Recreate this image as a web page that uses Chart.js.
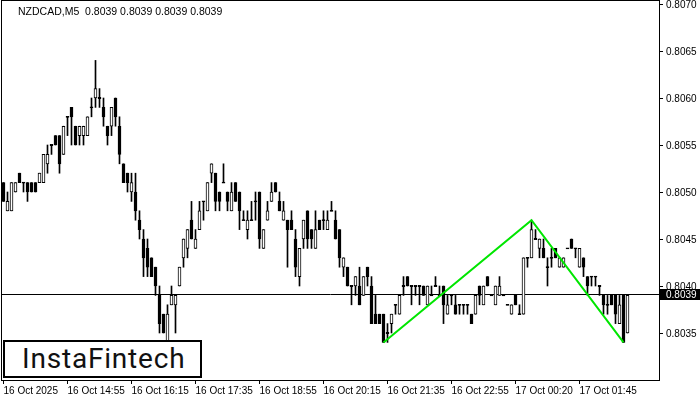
<!DOCTYPE html>
<html>
<head>
<meta charset="utf-8">
<script src="https://cdn.jsdelivr.net/npm/chart.js@4.4.1/dist/chart.umd.min.js"></script>
<style>
html, body { margin: 0; padding: 0; background: #fff; }
#wrap { position: relative; width: 700px; height: 400px; }
#logo {
    position: absolute; left: 3px; top: 340px; width: 178px; height: 34px;
    padding-left: 17px; border: 2px solid #000; background: #fff;
    font-family: Roboto, sans-serif; font-size: 28px; font-weight: 400; line-height: 34px;
    letter-spacing: 0.8px; color: #111;
}
</style>
</head>
<body>
<div id="wrap">
    <canvas id="myChart" width="700" height="400"></canvas>
    <div id="logo">InstaFintech</div>
</div>
<script>
// NZDCAD M5 candles (157 bars)
const open = [
    0.8051,0.8048,0.8048,0.8050,0.8052,0.8051,0.8051,0.8051,0.8051,0.8051,
    0.8051,0.8053,0.8055,0.8056,0.8056,0.8054,0.8058,0.8059,0.8057,0.8056,
    0.8056,0.8056,0.8059,0.8060,0.8060,0.8059,0.8057,0.8057,0.8060,0.8057,
    0.8053,0.8052,0.8050,0.8050,0.8047,0.8045,0.8044,0.8043,0.8042,0.8039,
    0.8037,0.8034,0.8038,0.8038,0.8040,0.8043,0.8044,0.8047,0.8044,0.8046,
    0.8049,0.8048,0.8052,0.8052,0.8050,0.8051,0.8050,0.8048,0.8051,0.8050,
    0.8047,0.8046,0.8047,0.8049,0.8050,0.8044,0.8047,0.8049,0.8051,0.8049,
    0.8047,0.8047,0.8047,0.8045,0.8041,0.8045,0.8048,0.8046,0.8044,0.8047,
    0.8047,0.8046,0.8048,0.8047,0.8046,0.8042,0.8042,0.8040,0.8040,0.8040,
    0.8039,0.8042,0.8040,0.8037,0.8037,0.8037,0.8035,0.8036,0.8038,0.8037,
    0.8040,0.8041,0.8040,0.8040,0.8040,0.8040,0.8038,0.8039,0.8040,0.8039,
    0.8040,0.8037,0.8039,0.8038,0.8038,0.8038,0.8038,0.8037,0.8037,0.8040,
    0.8038,0.8041,0.8039,0.8038,0.8039,0.8039,0.8038,0.8037,0.8039,0.8037,
    0.8037,0.8043,0.8043,0.8045,0.8044,0.8044,0.8042,0.8043,0.8044,0.8042,
    0.8042,0.8044,0.8045,0.8044,0.8042,0.8043,0.8041,0.8041,0.8041,0.8040,
    0.8039,0.8038,0.8039,0.8039,0.8036,0.8039,0.8035
];
const high = [
    0.8051,0.8050,0.8051,0.8051,0.8052,0.8051,0.8051,0.8051,0.8051,0.8052,
    0.8054,0.8055,0.8055,0.8056,0.8056,0.8057,0.8058,0.8059,0.8057,0.8057,
    0.8057,0.8058,0.8060,0.8064,0.8061,0.8060,0.8057,0.8059,0.8060,0.8058,
    0.8053,0.8052,0.8052,0.8052,0.8048,0.8046,0.8045,0.8043,0.8042,0.8040,
    0.8037,0.8038,0.8040,0.8039,0.8042,0.8045,0.8046,0.8049,0.8046,0.8049,
    0.8049,0.8051,0.8053,0.8052,0.8050,0.8053,0.8050,0.8051,0.8051,0.8050,
    0.8048,0.8048,0.8049,0.8050,0.8050,0.8046,0.8049,0.8051,0.8051,0.8050,
    0.8049,0.8047,0.8048,0.8046,0.8044,0.8047,0.8048,0.8046,0.8048,0.8047,
    0.8048,0.8048,0.8049,0.8048,0.8046,0.8043,0.8042,0.8040,0.8041,0.8042,
    0.8041,0.8042,0.8041,0.8039,0.8037,0.8037,0.8036,0.8037,0.8038,0.8039,
    0.8041,0.8041,0.8040,0.8040,0.8040,0.8040,0.8040,0.8040,0.8041,0.8040,
    0.8040,0.8039,0.8039,0.8039,0.8038,0.8038,0.8038,0.8037,0.8039,0.8040,
    0.8040,0.8041,0.8039,0.8040,0.8041,0.8039,0.8038,0.8038,0.8039,0.8038,
    0.8043,0.8043,0.8047,0.8046,0.8045,0.8045,0.8043,0.8044,0.8044,0.8043,
    0.8043,0.8044,0.8045,0.8044,0.8044,0.8043,0.8041,0.8041,0.8041,0.8040,
    0.8039,0.8039,0.8039,0.8039,0.8039,0.8039,0.8039
];
const low = [
    0.8049,0.8048,0.8048,0.8050,0.8051,0.8050,0.8049,0.8050,0.8050,0.8051,
    0.8051,0.8052,0.8054,0.8055,0.8052,0.8054,0.8056,0.8055,0.8055,0.8055,
    0.8055,0.8056,0.8058,0.8059,0.8059,0.8057,0.8055,0.8056,0.8057,0.8053,
    0.8051,0.8050,0.8049,0.8047,0.8045,0.8041,0.8041,0.8041,0.8039,0.8035,
    0.8035,0.8034,0.8038,0.8035,0.8040,0.8042,0.8043,0.8045,0.8044,0.8046,
    0.8047,0.8048,0.8051,0.8048,0.8048,0.8051,0.8048,0.8048,0.8049,0.8046,
    0.8047,0.8045,0.8047,0.8047,0.8044,0.8044,0.8047,0.8049,0.8050,0.8048,
    0.8047,0.8042,0.8046,0.8041,0.8040,0.8044,0.8044,0.8044,0.8044,0.8046,
    0.8046,0.8046,0.8048,0.8045,0.8042,0.8041,0.8040,0.8038,0.8039,0.8038,
    0.8039,0.8040,0.8036,0.8036,0.8036,0.8034,0.8034,0.8035,0.8037,0.8037,
    0.8039,0.8040,0.8038,0.8039,0.8038,0.8039,0.8038,0.8039,0.8040,0.8039,
    0.8036,0.8037,0.8038,0.8037,0.8037,0.8037,0.8037,0.8036,0.8037,0.8038,
    0.8038,0.8040,0.8039,0.8038,0.8039,0.8039,0.8038,0.8037,0.8038,0.8037,
    0.8037,0.8042,0.8043,0.8045,0.8043,0.8043,0.8040,0.8042,0.8043,0.8042,
    0.8042,0.8044,0.8044,0.8043,0.8042,0.8041,0.8039,0.8040,0.8040,0.8039,
    0.8037,0.8037,0.8038,0.8036,0.8036,0.8034,0.8035
];
const close = [
    0.8049,0.8049,0.8051,0.8051,0.8051,0.8051,0.8050,0.8050,0.8050,0.8052,
    0.8054,0.8054,0.8055,0.8055,0.8053,0.8057,0.8058,0.8058,0.8055,0.8057,
    0.8057,0.8058,0.8059,0.8061,0.8060,0.8058,0.8056,0.8059,0.8058,0.8054,
    0.8051,0.8051,0.8051,0.8048,0.8046,0.8043,0.8042,0.8041,0.8040,0.8036,
    0.8035,0.8037,0.8039,0.8039,0.8042,0.8045,0.8046,0.8045,0.8045,0.8048,
    0.8049,0.8051,0.8053,0.8049,0.8049,0.8051,0.8049,0.8050,0.8049,0.8048,
    0.8047,0.8047,0.8047,0.8049,0.8045,0.8046,0.8048,0.8050,0.8050,0.8048,
    0.8048,0.8046,0.8046,0.8042,0.8044,0.8047,0.8045,0.8045,0.8046,0.8046,
    0.8047,0.8047,0.8048,0.8045,0.8043,0.8043,0.8040,0.8040,0.8041,0.8038,
    0.8041,0.8041,0.8036,0.8036,0.8036,0.8034,0.8035,0.8037,0.8038,0.8039,
    0.8040,0.8040,0.8040,0.8040,0.8040,0.8039,0.8040,0.8039,0.8040,0.8039,
    0.8038,0.8038,0.8039,0.8037,0.8038,0.8038,0.8038,0.8036,0.8039,0.8039,
    0.8040,0.8040,0.8039,0.8040,0.8040,0.8039,0.8038,0.8038,0.8038,0.8037,
    0.8043,0.8043,0.8046,0.8045,0.8045,0.8043,0.8042,0.8043,0.8043,0.8043,
    0.8043,0.8044,0.8044,0.8044,0.8044,0.8042,0.8040,0.8041,0.8041,0.8040,
    0.8038,0.8038,0.8038,0.8037,0.8038,0.8034,0.8039
];

// double top pattern drawn in green (bar index, price)
const patternX = [95, 132, 155];
const patternY = [0.8034, 0.8047, 0.8034];

const tickIndex = [0, 16, 32, 48, 64, 80, 96, 112, 128, 144];
const tickLabels = ['16 Oct 2025', '16 Oct 14:55', '16 Oct 16:15', '16 Oct 17:35', '16 Oct 18:55',
                    '16 Oct 20:15', '16 Oct 21:35', '16 Oct 22:55', '17 Oct 00:20', '17 Oct 01:45'];
const priceTicks = [0.8035, 0.8040, 0.8045, 0.8050, 0.8055, 0.8060, 0.8065, 0.8070];

const symbol = 'NZDCAD,M5';
const quote = [0.8039, 0.8039, 0.8039, 0.8039];
const lastPrice = close[close.length - 1];

const FONT = 'Liberation Sans, Arial, sans-serif';

var wicks = open.map((o, i) => ({ x: i, y: [low[i], high[i]] }));
var bodies = open.map((o, i) => {
    let a = o, b = close[i];
    if (a === b) { a -= 0.000006; b += 0.000006; } // doji: a thin line
    return { x: i, y: [a, b] };
});
var bodyFill = open.map((o, i) => close[i] > o ? '#ffffff' : '#000000');
var pattern = patternX.map((x, i) => ({ x: x, y: patternY[i] }));

const decor = {
    id: 'decor',
    beforeDatasetsDraw(chart) {
        const { ctx, chartArea: a, scales: { y } } = chart;
        const py = Math.round(y.getPixelForValue(lastPrice)) - 0.5;
        ctx.save();
        ctx.strokeStyle = '#000';
        ctx.lineWidth = 1;
        ctx.beginPath();
        ctx.moveTo(a.left, py);
        ctx.lineTo(a.right, py);
        ctx.stroke();
        ctx.restore();
    },
    afterDraw(chart) {
        const { ctx, chartArea: a, scales: { y } } = chart;
        ctx.save();
        ctx.strokeStyle = '#000';
        ctx.lineWidth = 1;
        ctx.strokeRect(a.left - 0.5, a.top - 0.5, a.right - a.left + 1, a.bottom - a.top + 1);

        // current price label
        const py = Math.round(y.getPixelForValue(lastPrice)) - 0.5;
        ctx.fillStyle = '#000';
        ctx.fillRect(a.right + 1, Math.round(py - 5.5), 700 - a.right - 1, 11);
        ctx.fillStyle = '#fff';
        ctx.font = '10px ' + FONT;
        ctx.textBaseline = 'middle';
        ctx.textAlign = 'left';
        ctx.fillText(lastPrice.toFixed(4), a.right + 7, py + 0.5);

        // header
        ctx.fillStyle = '#000';
        ctx.font = '10.5px ' + FONT;
        ctx.fillText(symbol + '  ' + quote.map(q => q.toFixed(4)).join(' '), 18, 12);
        ctx.restore();
    }
};

var ctx = document.getElementById('myChart').getContext('2d');
var myChart = new Chart(ctx, {
    type: 'bar',
    data: {
        datasets: [
            {
                type: 'line',
                data: pattern,
                borderColor: 'rgb(0, 230, 0)',
                borderWidth: 2,
                pointRadius: 0,
                fill: false,
                order: 0
            },
            {
                data: bodies,
                backgroundColor: bodyFill,
                borderColor: '#000',
                borderWidth: 1,
                borderSkipped: false,
                barThickness: 3,
                grouped: false,
                order: 1
            },
            {
                data: wicks,
                backgroundColor: '#000',
                borderWidth: 0,
                barThickness: 1,
                grouped: false,
                order: 2
            }
        ]
    },
    options: {
        responsive: false,
        animation: false,
        layout: { autoPadding: false, padding: { left: 2, top: 1, right: 0, bottom: 0 } },
        plugins: { legend: { display: false }, tooltip: { enabled: false } },
        scales: {
            x: {
                type: 'linear',
                min: -0.375,
                max: 163.875,
                offset: false,
                border: { display: false },
                grid: { drawOnChartArea: false, drawTicks: true, tickLength: 4, color: '#000', offset: false },
                ticks: {
                    align: 'start',
                    padding: 1,
                    color: '#000',
                    autoSkip: false,
                    maxRotation: 0,
                    font: { family: FONT, size: 10 },
                    callback: v => tickLabels[tickIndex.indexOf(v)]
                },
                afterBuildTicks: s => { s.ticks = tickIndex.map(v => ({ value: v })); },
                afterFit: s => { s.height = 20; s.paddingLeft = 0; s.paddingRight = 0; }
            },
            y: {
                position: 'right',
                min: 0.8030,
                max: 0.807032,
                border: { display: false },
                grid: { drawOnChartArea: false, drawTicks: true, tickLength: 4, color: '#000' },
                ticks: {
                    padding: 3,
                    labelOffset: 1,
                    color: '#000',
                    autoSkip: false,
                    font: { family: FONT, size: 10 },
                    callback: v => v.toFixed(4)
                },
                afterBuildTicks: s => { s.ticks = priceTicks.map(v => ({ value: v })); },
                afterFit: s => { s.width = 41; s.paddingTop = 0; s.paddingBottom = 0; }
            }
        }
    },
    plugins: [decor]
});
</script>
</body>
</html>
